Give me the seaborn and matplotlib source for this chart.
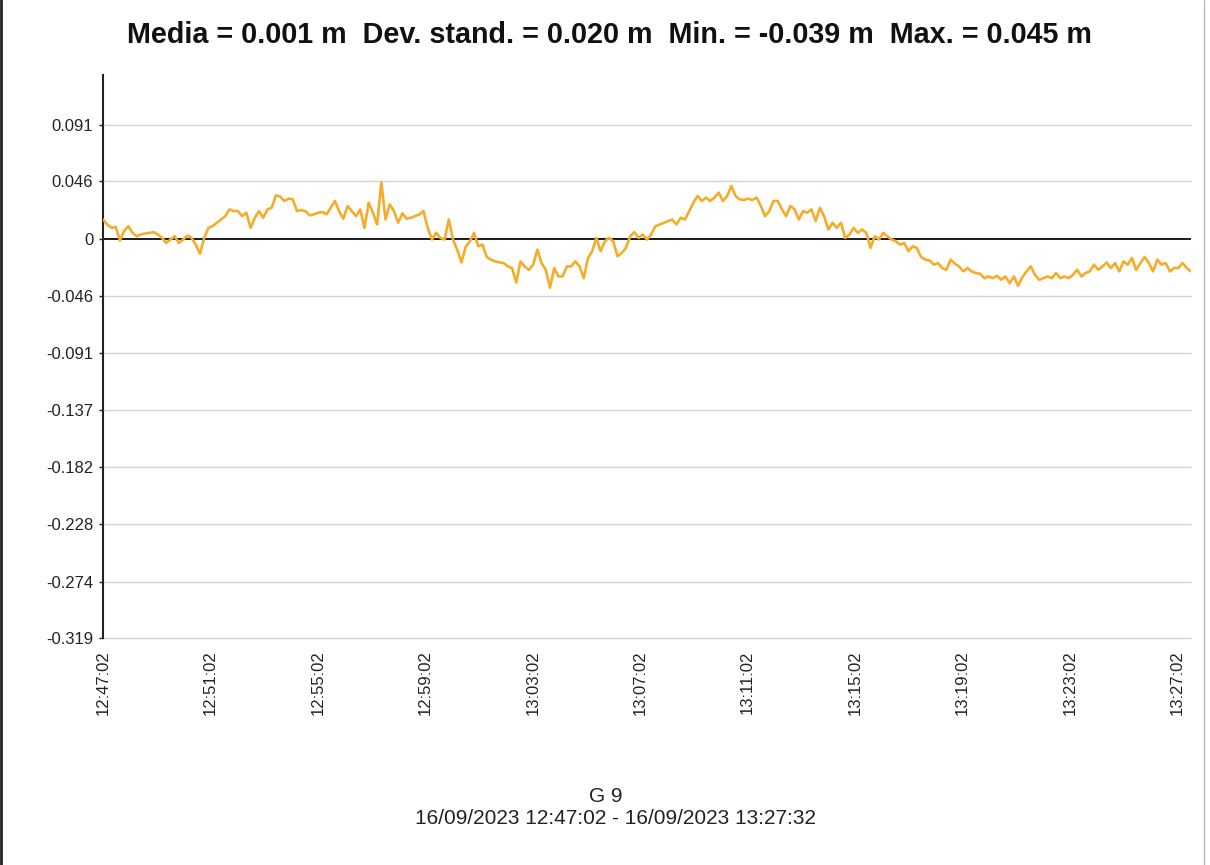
import numpy as np
import pandas as pd
import matplotlib
matplotlib.use("Agg")
import matplotlib.pyplot as plt
from matplotlib.lines import Line2D
import seaborn as sns

# ---- data (displacement in millimetres) ----
start_time = "2023-09-16 12:47:02"
end_time = "2023-09-16 13:27:32"

values_mm = [
    15.5, 11.5, 8.8, 9.6, -1.3, 6.2, 10.2, 4.8, 2.1, 3.5,
    4.3, 4.8, 5.4, 3.5, 0.8, -3.2, -0.5, 2.1, -3.2, -0.5,
    2.7, 0.8, -4.6, -11.8, 0.8, 8.8, 10.2, 12.9, 15.5, 18.2,
    23.6, 22.2, 22.2, 18.2, 20.9, 8.8, 16.9, 22.2, 16.9, 23.6,
    24.9, 34.8, 33.8, 30.3, 32.2, 31.6, 22.2, 23.0, 22.2, 18.8,
    19.6, 20.9, 21.4, 19.6, 24.9, 30.3, 22.2, 16.1, 26.3, 22.2,
    18.2, 23.6,
    8.8, 28.9, 20.9, 11.5, 45.0, 15.5, 27.6, 22.2, 12.9, 20.4,
    16.1, 16.9, 18.2, 19.6, 22.2, 8.8, -0.5, 4.8, 0.8, -0.5,
    15.5, -0.5, -8.6, -18.8, -6.4, -1.9, 4.8, -5.9, -4.6, -14.5,
    -16.6, -18.0, -18.8, -19.3, -22.0, -23.3, -34.8, -18.0, -22.0, -24.7,
    -20.6, -8.6, -19.3, -24.7, -39.0, -23.3, -30.0, -30.0, -22.0, -22.0,
    -18.0, -22.0, -31.4, -15.3, -9.9, 0.8, -9.9, -1.9, 0.8, -1.9,
    -13.9, -11.3, -7.2, 2.1,
    5.4, 0.8, 3.5, -0.5, 3.5, 10.2, 11.5, 12.9, 14.2, 15.5,
    11.5, 16.9, 15.5, 22.2, 28.9, 34.3, 30.3, 33.0, 30.3, 33.0,
    37.0, 30.3, 34.3, 42.3, 34.3, 31.6, 31.1, 32.2, 31.1, 33.0,
    26.3, 18.2, 22.2, 30.3, 30.3, 23.6, 18.2, 26.3, 23.6, 15.5,
    22.2, 20.9, 23.6, 14.2, 24.9, 18.2, 7.5, 12.9, 8.8, 12.9,
    0.8, 3.5, 8.8, 4.8, 7.5, 4.8, -7.2, 2.1, -0.5, 4.8,
    2.1, -0.5, -1.9, -4.6, -3.2, -9.9, -5.9, -7.2,
    -14.5, -16.6, -17.2, -20.6, -19.3, -23.3, -24.7, -16.6, -19.8, -22.0,
    -26.0, -23.3, -26.0, -27.3, -27.9, -31.4, -30.0, -31.4, -29.5, -32.7,
    -30.0, -35.4, -30.0, -37.5, -30.6, -26.0, -22.0, -28.7, -32.7, -31.4,
    -30.0, -31.4, -27.3, -31.4, -30.0, -31.4, -28.7, -24.7, -30.0, -27.3,
    -26.0, -20.6, -24.7, -22.0, -18.8, -23.3, -19.3, -26.0, -18.0, -20.6,
    -15.3, -24.7, -19.3, -14.5, -19.3, -26.0, -16.6, -20.6, -19.3, -26.0,
    -23.3, -23.3, -19.3, -23.3, -26.0,
]

y_ticks = [0.091, 0.046, 0, -0.046, -0.091, -0.137, -0.182, -0.228, -0.274, -0.319]
y_tick_labels = ["0.091", "0.046", "0", "-0.046", "-0.091", "-0.137", "-0.182",
                 "-0.228", "-0.274", "-0.319"]
x_tick_labels = ["12:47:02", "12:51:02", "12:55:02", "12:59:02", "13:03:02", "13:07:02",
                 "13:11:02", "13:15:02", "13:19:02", "13:23:02", "13:27:02"]
y_top = 0.131

title = "Media = 0.001 m  Dev. stand. = 0.020 m  Min. = -0.039 m  Max. = 0.045 m"
footer_name = "G 9"
footer_range = "16/09/2023 12:47:02 - 16/09/2023 13:27:32"

# ---- build frame ----
t0 = pd.Timestamp(start_time)
t1 = pd.Timestamp(end_time)
times = pd.date_range(t0, t1, periods=len(values_mm))
df = pd.DataFrame({"time": times, "value": np.array(values_mm) / 1000.0})

sns.set_theme(style="white")
plt.rcParams["font.family"] = ["Liberation Sans", "DejaVu Sans"]

fig = plt.figure(figsize=(12.1, 8.65), dpi=100)
ax = fig.add_axes([103 / 1210, 1 - 638 / 865, (1191 - 103) / 1210, (638 - 75) / 865])

# grid lines
for yv in y_ticks:
    if yv != 0:
        ax.axhline(yv, color="#d4d4d4", lw=1.0, zorder=0, clip_on=False)
ax.axhline(0, color="#1a1a1a", lw=1.4, zorder=1)

sns.lineplot(data=df, x="time", y="value", ax=ax, color="#F5AC2A", lw=1.9, zorder=3)

ax.set_xlim(t0, t1)
ax.set_ylim(-0.319, y_top)
ax.set_yticks(y_ticks)
ax.set_yticklabels(y_tick_labels)
xt = [pd.Timestamp("2023-09-16 " + s) for s in x_tick_labels]
ax.set_xticks(xt)
ax.set_xticklabels(x_tick_labels, rotation=90)
ax.set_xlabel("")
ax.set_ylabel("")
ax.tick_params(axis="y", labelsize=12, colors="#222222", length=3, width=1,
               direction="out", pad=4, left=True)
ax.tick_params(axis="x", labelsize=12, labelcolor="#222222", length=0, pad=9,
               bottom=True)
for s in ["top", "right", "bottom"]:
    ax.spines[s].set_visible(False)
ax.spines["left"].set_color("#222222")
ax.spines["left"].set_linewidth(1.5)
ax.grid(False)

fig.text(609 / 1210, 1 - 35 / 865, title, ha="center", va="center",
         fontsize=20.7, fontweight="bold", color="#111111")
fig.text(606 / 1210, 1 - 796 / 865, footer_name, ha="center", va="center",
         fontsize=15, color="#222222")
fig.text(616 / 1210, 1 - 819 / 865, footer_range, ha="center", va="center",
         fontsize=15, color="#222222")

# window border
fig.add_artist(Line2D([1 / 1210, 1 / 1210], [0, 1], color="#222222", lw=2,
                      transform=fig.transFigure))
fig.add_artist(Line2D([1204 / 1210, 1204 / 1210], [0, 1], color="#bbbbbb", lw=1,
                      transform=fig.transFigure))

fig.savefig("out.png", dpi=100)
